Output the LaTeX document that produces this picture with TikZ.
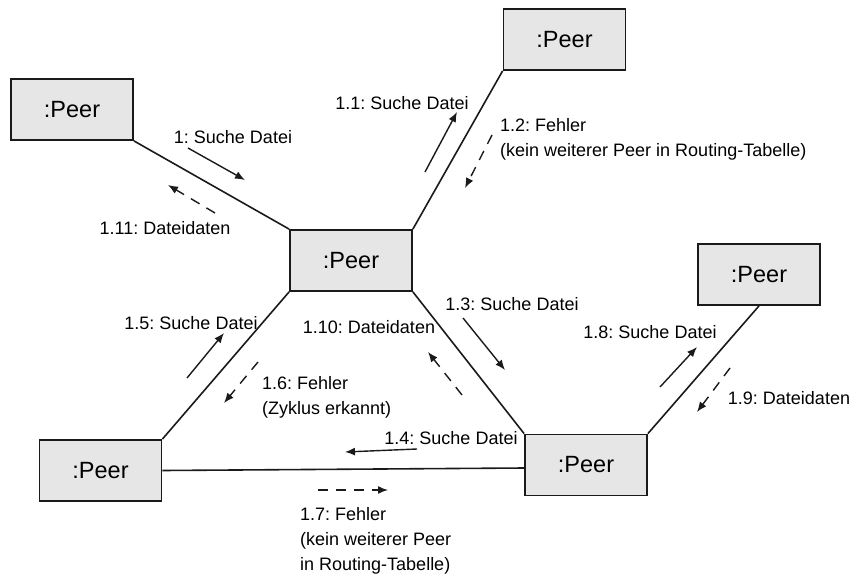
\documentclass[tikz,border=0pt]{standalone}
\usepackage{fontspec}
\setmainfont{Liberation Sans}
\usetikzlibrary{arrows.meta}
\frenchspacing
\definecolor{peerfill}{HTML}{E6E6E6}
\definecolor{ink}{HTML}{1A1A1A}
\tikzset{
  peer/.style={draw=ink, line width=1.8pt, fill=peerfill, minimum width=122pt,
    minimum height=61pt, inner sep=0pt, font=\fontsize{23.5}{28}\selectfont},
  link/.style={draw=ink, line width=1.6pt},
  msg/.style={draw=ink, line width=1.4pt, -{Latex[length=10pt,width=8pt]}},
  reply/.style={msg, dash pattern=on 10pt off 8pt},
  lbl/.style={inner sep=0pt, font=\fontsize{18}{25}\selectfont, anchor=base},
  lbll/.style={lbl, anchor=base west, align=left}
}
\begin{document}
\begin{tikzpicture}[x=1pt, y=-1pt]
  \useasboundingbox (0,0) rectangle (854,573);

  % peers
  \node[peer] (tl) at (72,109.5) {:Peer};
  \node[peer] (tr) at (564.5,39.5) {:Peer};
  \node[peer] (c)  at (351,260.5) {:Peer};
  \node[peer] (r)  at (759,274.5) {:Peer};
  \node[peer] (bl) at (100.5,470.5) {:Peer};
  \node[peer] (br) at (586,465) {:Peer};

  % links
  \draw[link] (tl.south east) -- (c.north west);
  \draw[link] (c.north east) -- (tr.south west);
  \draw[link] (c.south west) -- (bl.north east);
  \draw[link] (c.south east) -- (br.north west);
  \draw[link] (br.north east) -- (r.south);
  \draw[link] (bl.east) -- ([yshift=-3pt]br.west);

  % messages
  \draw[msg]   (188,148) -- (245,180);
  \draw[reply] (215,213) -- (168,185);
  \draw[msg]   (425,172) -- (457,112);
  \draw[reply] (492,135) -- (465,188);
  \draw[msg]   (463,318) -- (505,370);
  \draw[reply] (462,395) -- (428,352);
  \draw[msg]   (660,387) -- (697,347);
  \draw[reply] (730,368) -- (697,412);
  \draw[msg]   (187,378) -- (224,333);
  \draw[reply] (258,362) -- (224,403);
  \draw[msg]   (417,449) -- (345,452);
  \draw[reply] (318,490) -- (388,490);

  % labels (multi-line ones are anchored at the baseline of their last line)
  \node[lbl] (m1)   at (233,143) {1: Suche Datei};
  \node[lbl] (m111) at (165,234) {1.11: Dateidaten};
  \node[lbl] (m11)  at (402,109) {1.1: Suche Datei};
  \node[lbll] (m12) at (500,156) {1.2: Fehler\\(kein weiterer Peer in Routing-Tabelle)};
  \node[lbl] (m13)  at (512,310) {1.3: Suche Datei};
  \node[lbl] (m110) at (369,333) {1.10: Dateidaten};
  \node[lbl] (m18)  at (650,338) {1.8: Suche Datei};
  \node[lbl] (m19)  at (789,404) {1.9: Dateidaten};
  \node[lbl] (m15)  at (191,329) {1.5: Suche Datei};
  \node[lbll] (m16) at (262,414) {1.6: Fehler\\(Zyklus erkannt)};
  \node[lbl] (m14)  at (451,444) {1.4: Suche Datei};
  \node[lbll] (m17) at (300,570) {1.7: Fehler\\(kein weiterer Peer\\in Routing-Tabelle)};
\end{tikzpicture}
\end{document}
